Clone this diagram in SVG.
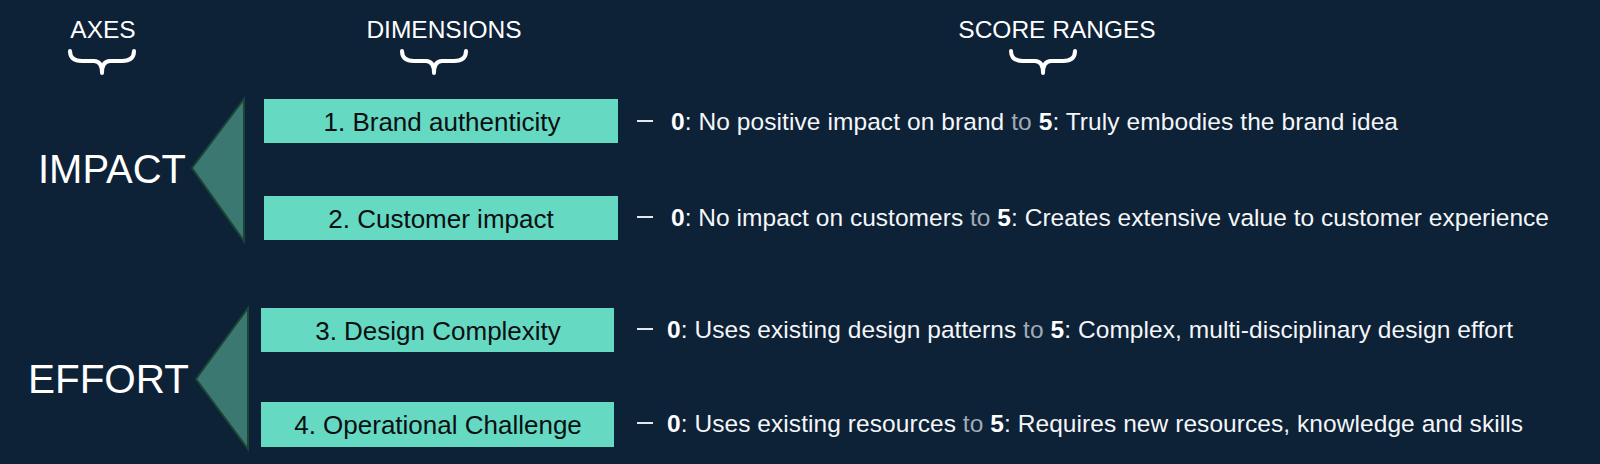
<svg xmlns="http://www.w3.org/2000/svg" width="1600" height="464" viewBox="0 0 1600 464">
<style>
.hdr{font-family:"Liberation Sans",Arial,sans-serif;font-size:24.5px;fill:#ffffff;text-anchor:middle}
.axis{font-family:"Liberation Sans",Arial,sans-serif;font-size:40px;fill:#ffffff}
.box{fill:#66d9c2}
.btxt{font-family:"Liberation Sans",Arial,sans-serif;font-size:26px;fill:#0a0f12;text-anchor:middle}
.tri{fill:#3c7872;stroke:#1b4636;stroke-width:2;stroke-linejoin:miter}
.brace{fill:none;stroke:#ffffff;stroke-width:4;stroke-linecap:round;stroke-linejoin:round}
.score{font-family:"Liberation Sans",Arial,sans-serif;font-size:24.5px;fill:#f4f6f8}
.b{font-weight:bold;fill:#ffffff}
.to{fill:#a2abb4}
.dash{stroke:#ffffff;stroke-width:1.8}
</style>
<defs>
<path id="brace" class="brace" d="M-32,2 Q-32,12 -20,12 L-8,12 Q0,12 0,24 Q0,12 8,12 L20,12 Q32,12 32,2"/>
</defs>
<rect width="1600" height="464" fill="#0d2137"/>
<g id="headers">
<text class="hdr" x="103" y="38">AXES</text>
<use href="#brace" x="102" y="49"/>
<text class="hdr" x="444" y="38">DIMENSIONS</text>
<use href="#brace" x="434" y="49"/>
<text class="hdr" x="1057" y="38">SCORE RANGES</text>
<use href="#brace" x="1043" y="49"/>
</g>
<g id="impact">
<text class="axis" x="38" y="183" textLength="148" lengthAdjust="spacingAndGlyphs">IMPACT</text>
<polygon class="tri" points="192,168 244,99 244,241"/>
</g>
<g id="effort">
<text class="axis" x="28" y="393" textLength="161" lengthAdjust="spacingAndGlyphs">EFFORT</text>
<polygon class="tri" points="196,379 248,308 248,449"/>
</g>
<g id="dim1">
<rect class="box" x="264" y="99" width="354" height="44"/>
<text class="btxt" x="442" y="130.5">1. Brand authenticity</text>
</g>
<g id="dim2">
<rect class="box" x="264" y="196" width="354" height="44"/>
<text class="btxt" x="441" y="227.5">2. Customer impact</text>
</g>
<g id="dim3">
<rect class="box" x="261" y="308" width="353" height="44"/>
<text class="btxt" x="438" y="339.5">3. Design Complexity</text>
</g>
<g id="dim4">
<rect class="box" x="261" y="402" width="353" height="45"/>
<text class="btxt" x="438" y="433.5">4. Operational Challenge</text>
</g>
<g id="connectors">
<line class="dash" x1="637" y1="121" x2="653" y2="121"/>
<line class="dash" x1="637" y1="217" x2="653" y2="217"/>
<line class="dash" x1="637" y1="329" x2="653" y2="329"/>
<line class="dash" x1="637" y1="423" x2="653" y2="423"/>
</g>
<g id="scores">
<text class="score" x="671" y="130" textLength="727"><tspan class="b">0</tspan>: No positive impact on brand <tspan class="to">to</tspan> <tspan class="b">5</tspan>: Truly embodies the brand idea</text>
<text class="score" x="671" y="226" textLength="878"><tspan class="b">0</tspan>: No impact on customers <tspan class="to">to</tspan> <tspan class="b">5</tspan>: Creates extensive value to customer experience</text>
<text class="score" x="667" y="338" textLength="846"><tspan class="b">0</tspan>: Uses existing design patterns <tspan class="to">to</tspan> <tspan class="b">5</tspan>: Complex, multi-disciplinary design effort</text>
<text class="score" x="667" y="432" textLength="856"><tspan class="b">0</tspan>: Uses existing resources <tspan class="to">to</tspan> <tspan class="b">5</tspan>: Requires new resources, knowledge and skills</text>
</g>
</svg>
